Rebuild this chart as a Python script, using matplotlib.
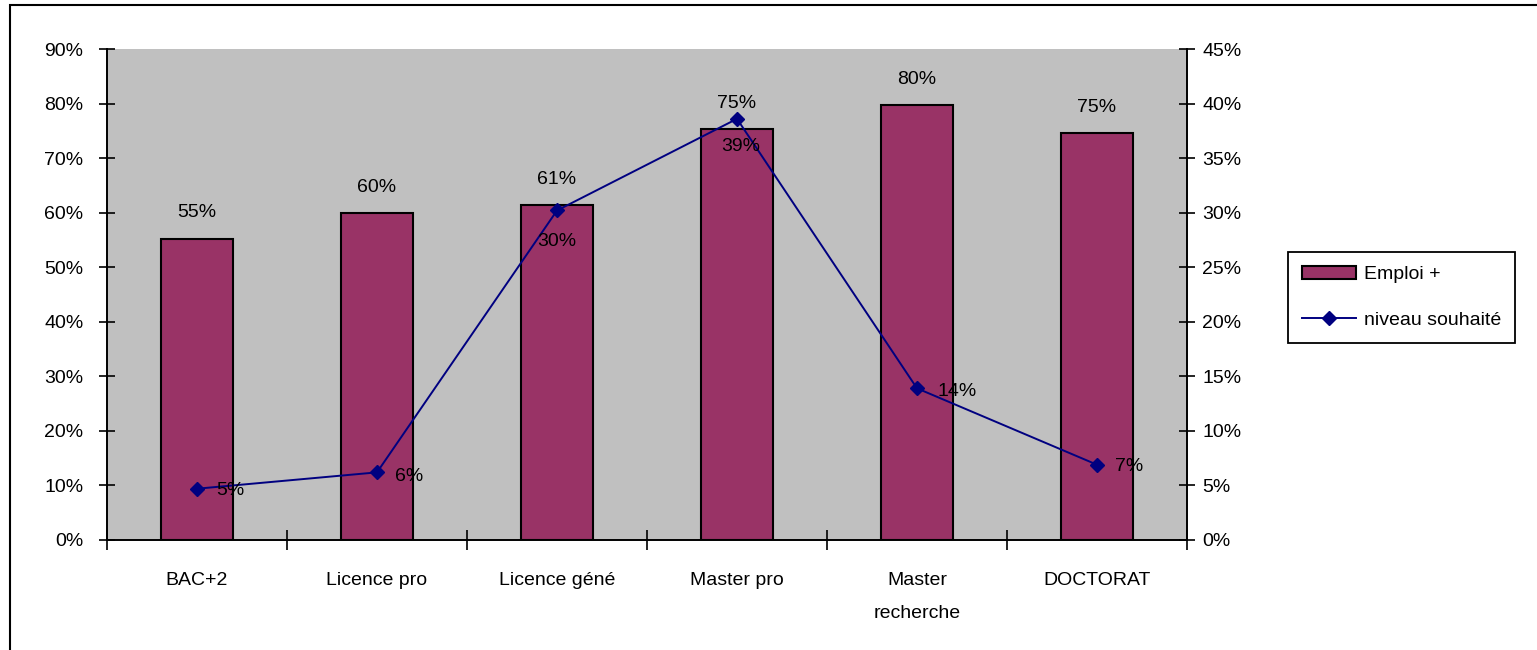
import matplotlib.pyplot as plt
from matplotlib.patches import Rectangle
from matplotlib.ticker import PercentFormatter

plt.rcParams['font.family'] = ['Liberation Sans', 'DejaVu Sans']

categories = ["BAC+2", "Licence pro", "Licence géné", "Master pro", "Master\nrecherche", "DOCTORAT"]
emploi = [55.2, 59.9, 61.4, 75.3, 79.7, 74.6]
souhaite = [4.7, 6.2, 30.2, 38.6, 13.9, 6.9]

# where each line label sits relative to its point (pixels, alignment)
line_label_pos = [(19, -2, "left"), (18, -4, "left"), (0, -31, "center"),
                  (4, -28, "center"), (20, -3, "left"), (18, -2, "left")]

FS = 14

fig = plt.figure(figsize=(15.37, 6.5), dpi=100)
ax = fig.add_axes([107 / 1537, 1 - 540 / 650, 1080 / 1537, 491 / 650])
ax2 = ax.twinx()

ax.set_facecolor("#C0C0C0")
x = range(len(categories))
bars = ax.bar(x, emploi, width=0.4, color="#993366", edgecolor="black", linewidth=1.5,
              label="Emploi +", zorder=2)
for xi, v in zip(x, emploi):
    ax.annotate(f"{v:.0f}%", (xi, v), xytext=(0, 26), textcoords="offset pixels",
                ha="center", va="center", fontsize=FS)

line, = ax2.plot(x, souhaite, color="#000080", linewidth=1.4, marker="D", markersize=7,
                 label="niveau souhaité", zorder=3)
for xi, v, (dx, dy, ha) in zip(x, souhaite, line_label_pos):
    ax2.annotate(f"{v:.0f}%", (xi, v), xytext=(dx, dy), textcoords="offset pixels",
                 ha=ha, va="center", fontsize=FS)

ax.set_xlim(-0.5, len(categories) - 0.5)
ax.set_ylim(0, 90)
ax2.set_ylim(0, 45)
ax.set_yticks(range(0, 91, 10))
ax2.set_yticks(range(0, 46, 5))
ax.yaxis.set_major_formatter(PercentFormatter(decimals=0))
ax2.yaxis.set_major_formatter(PercentFormatter(decimals=0))

ax.set_xticks([i + 0.5 for i in range(-1, len(categories))])
ax.set_xticklabels([])
ax.set_xticks(list(x), minor=True)
ax.set_xticklabels(categories, minor=True, fontsize=FS, linespacing=2.25)
ax.tick_params(axis="x", which="major", direction="inout", length=14, width=1.2)
ax.tick_params(axis="x", which="minor", length=0, pad=23)
ax.tick_params(axis="y", direction="inout", length=12, width=1.2, labelsize=FS, pad=11)
ax2.tick_params(axis="y", direction="inout", length=12, width=1.2, labelsize=FS, pad=5)

for a in (ax, ax2):
    a.spines["top"].set_visible(False)
    for s in ("left", "right", "bottom"):
        a.spines[s].set_linewidth(1.4)
ax.spines["right"].set_visible(False)
ax2.spines["left"].set_visible(False)
ax2.spines["bottom"].set_visible(False)

leg = fig.legend([bars, line], ["Emploi +", "niveau souhaité"], loc="upper left",
                 bbox_to_anchor=(1288 / 1537, 1 - 252 / 650), fontsize=FS,
                 frameon=True, fancybox=False, edgecolor="black", framealpha=1,
                 borderpad=0.7, labelspacing=1.45, handlelength=2.8, handletextpad=0.4,
                 borderaxespad=0)
leg.get_frame().set_linewidth(1.3)

fig.patches.append(Rectangle((10 / 1537, -0.01), 1.1, 1 - 5 / 650 + 0.01,
                             transform=fig.transFigure, fill=False,
                             edgecolor="black", linewidth=1.5))

fig.savefig("out.png", dpi=100)
